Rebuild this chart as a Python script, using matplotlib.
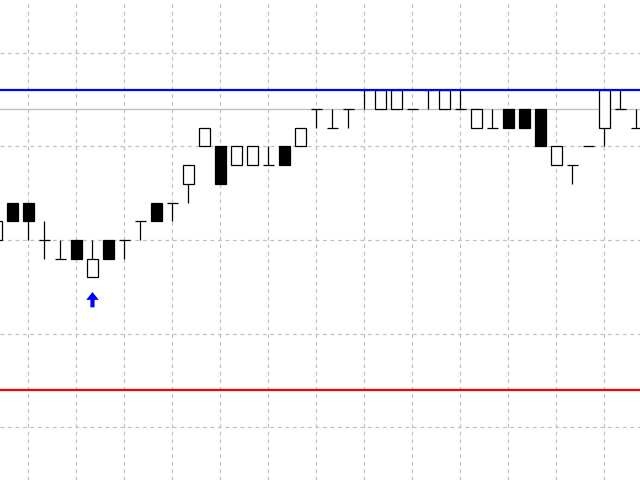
import numpy as np
import matplotlib
matplotlib.use("Agg")
import matplotlib.pyplot as plt
from matplotlib.patches import FancyArrow

# candle data (price levels in ticks)
opens  = [0, 2, 2, 0, -1, 0, -2, 0, 0, 1, 2, 2, 3, 5, 5, 4, 4, 4, 5, 5,
          7, 6, 7, 8, 7, 7, 7, 8, 7, 7, 6, 6, 7, 7, 7, 4, 4, 5, 6, 7, 6]
highs  = [1, 2, 2, 1, 0, 0, 0, 0, 0, 1, 2, 2, 4, 6, 5, 5, 5, 5, 5, 6,
          7, 7, 7, 8, 8, 8, 7, 8, 8, 8, 7, 7, 7, 7, 7, 5, 4, 5, 8, 8, 7]
lows   = [0, 1, 0, -1, -1, -1, -2, -1, -1, 0, 1, 1, 2, 5, 3, 4, 4, 4, 4, 5,
          6, 6, 6, 7, 7, 7, 7, 7, 7, 7, 6, 6, 6, 6, 5, 4, 3, 5, 5, 7, 6]
closes = [1, 1, 1, 0, -1, -1, -1, -1, 0, 1, 1, 2, 4, 6, 3, 5, 5, 4, 4, 6,
          7, 6, 7, 8, 8, 8, 7, 8, 8, 7, 7, 6, 6, 6, 5, 5, 4, 5, 8, 7, 6]

upper_level = 8
lower_level = -8
bid_level = 7
arrow_bar = 6
arrow_low = -3.6
arrow_high = -2.78

x = np.arange(len(opens))
o = np.array(opens)
h = np.array(highs)
l = np.array(lows)
c = np.array(closes)

fig = plt.figure(figsize=(6.4, 4.8), dpi=100)
ax = fig.add_axes([0, 0, 1, 1])
ax.set_xlim(0.22, 40.22)
ax.set_ylim(-12.83, 12.83)
ax.axis("off")

# grid
for gx in np.arange(2, 41, 3):
    ax.axvline(gx, color="#c0c0c0", lw=0.9, ls=(0, (3, 3)), zorder=0)
for gy in np.arange(-10, 11, 5):
    ax.axhline(gy, color="#c0c0c0", lw=0.9, ls=(0, (3, 3)), zorder=0)
ax.axhline(bid_level, color="#c0c0c0", lw=1.0, zorder=0.5)

w = 0.66
# wicks
ax.vlines(x, l, h, color="black", lw=0.9, zorder=1)
# bodies
body = c != o
up = body & (c > o)
down = body & (c < o)
ax.bar(x[up], (c - o)[up], bottom=o[up], width=w, facecolor="white",
       edgecolor="black", linewidth=0.9, zorder=2)
ax.bar(x[down], (c - o)[down], bottom=o[down], width=w, facecolor="black",
       edgecolor="black", linewidth=0.9, zorder=2)
# doji
dj = ~body
ax.hlines(o[dj], x[dj] - w / 2, x[dj] + w / 2, color="black", lw=0.9, zorder=2)

# levels
ax.axhline(upper_level, color="blue", lw=1.6, zorder=3)
ax.axhline(lower_level, color="red", lw=1.6, zorder=3)

# signal arrow
ax.add_patch(FancyArrow(arrow_bar, arrow_low, 0, arrow_high - arrow_low,
                        width=0.26, head_width=0.78, head_length=0.42,
                        length_includes_head=True, color="blue", lw=0,
                        zorder=4))

fig.savefig("out.png", dpi=100, facecolor="white")
